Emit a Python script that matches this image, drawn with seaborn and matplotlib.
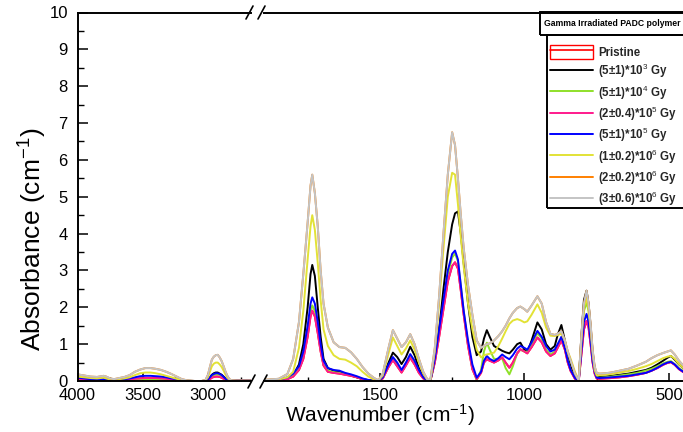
import matplotlib
matplotlib.use("Agg")
import matplotlib.pyplot as plt
import pandas as pd
import seaborn as sns
from matplotlib.lines import Line2D
from matplotlib.patches import Patch, Rectangle
from matplotlib.legend_handler import HandlerTuple
from matplotlib.ticker import MultipleLocator, FormatStrFormatter

sns.set_theme(style="white")
plt.rcParams["font.family"] = ["Liberation Sans", "DejaVu Sans"]
plt.rcParams["mathtext.fontset"] = "custom"
plt.rcParams["mathtext.rm"] = "Liberation Sans"
plt.rcParams["mathtext.it"] = "Liberation Sans:italic"
plt.rcParams["mathtext.bf"] = "Liberation Sans:bold"

# ---------------- data ----------------
SERIES = ["Pristine", "(5±1)*10$^{3}$ Gy", "(5±1)*10$^{4}$ Gy", "(2±0.4)*10$^{5}$ Gy",
          "(5±1)*10$^{5}$ Gy", "(1±0.2)*10$^{6}$ Gy", "(2±0.2)*10$^{6}$ Gy", "(3±0.6)*10$^{6}$ Gy"]
COLORS = ["#ff0000", "#000000", "#8fe02a", "#ff1a8c", "#0000ff", "#e2e236", "#ff8000", "#c4c4c4"]

# left segment (4000 - 2650 cm-1)
W_L = [4000, 3950, 3900, 3850, 3800, 3780, 3750, 3720, 3680, 3640,
       3600, 3560, 3520, 3480, 3440, 3400, 3360, 3320, 3280, 3240,
       3200, 3150, 3100, 3050, 3020, 3000, 2985, 2970, 2955, 2940,
       2925, 2910, 2895, 2880, 2865, 2850, 2835, 2820, 2780, 2740,
       2700, 2650]
PRISTINE_L = [0.05, 0.04, 0.03, 0.03, 0.04, 0.03, 0.02, 0.01, 0.02, 0.03,
              0.04, 0.06, 0.07, 0.08, 0.08, 0.08, 0.07, 0.06, 0.04, 0.03,
              0.01, 0.00, 0.00, 0.00, 0.00, 0.02, 0.05, 0.09, 0.11, 0.12,
              0.12, 0.11, 0.09, 0.06, 0.03, 0.01, 0.01, 0.01, 0.01, 0.01,
              0.01, 0.01]
D5E3_L = [0.03, 0.03, 0.02, 0.02, 0.04, 0.02, 0.02, 0.01, 0.02, 0.03,
          0.04, 0.05, 0.06, 0.06, 0.06, 0.06, 0.05, 0.04, 0.03, 0.02,
          0.01, 0.00, 0.00, 0.00, 0.01, 0.04, 0.10, 0.17, 0.21, 0.23,
          0.23, 0.20, 0.17, 0.12, 0.07, 0.03, 0.01, 0.00, 0.00, 0.00,
          0.00, 0.00]
D5E4_L = [0.03, 0.03, 0.02, 0.02, 0.03, 0.02, 0.01, 0.01, 0.01, 0.02,
          0.03, 0.04, 0.05, 0.05, 0.05, 0.05, 0.04, 0.03, 0.02, 0.01,
          0.00, 0.00, 0.00, 0.00, 0.00, 0.03, 0.08, 0.13, 0.16, 0.18,
          0.18, 0.16, 0.13, 0.09, 0.05, 0.02, 0.01, 0.00, 0.00, 0.00,
          0.00, 0.00]
D2E5_L = [0.05, 0.04, 0.03, 0.03, 0.04, 0.03, 0.02, 0.01, 0.02, 0.03,
          0.04, 0.06, 0.07, 0.08, 0.08, 0.08, 0.07, 0.06, 0.04, 0.03,
          0.01, 0.00, 0.00, 0.00, 0.00, 0.02, 0.05, 0.09, 0.11, 0.12,
          0.12, 0.11, 0.09, 0.06, 0.03, 0.01, 0.01, 0.01, 0.01, 0.01,
          0.01, 0.01]
D5E5_L = [0.09, 0.07, 0.05, 0.04, 0.05, 0.04, 0.03, 0.02, 0.03, 0.05,
          0.07, 0.10, 0.13, 0.14, 0.14, 0.13, 0.12, 0.10, 0.07, 0.05,
          0.02, 0.01, 0.00, 0.00, 0.01, 0.04, 0.10, 0.16, 0.19, 0.21,
          0.21, 0.19, 0.16, 0.11, 0.06, 0.03, 0.02, 0.02, 0.02, 0.02,
          0.02, 0.02]
D1E6_L = [0.12, 0.10, 0.08, 0.07, 0.09, 0.07, 0.04, 0.03, 0.05, 0.07,
          0.10, 0.16, 0.21, 0.23, 0.23, 0.21, 0.18, 0.14, 0.10, 0.06,
          0.03, 0.01, 0.00, 0.00, 0.01, 0.10, 0.25, 0.40, 0.47, 0.50,
          0.50, 0.45, 0.38, 0.28, 0.17, 0.08, 0.03, 0.01, 0.01, 0.01,
          0.01, 0.01]
D2E6_L = [0.18, 0.15, 0.12, 0.11, 0.14, 0.12, 0.07, 0.05, 0.08, 0.11,
          0.16, 0.25, 0.31, 0.35, 0.35, 0.33, 0.30, 0.25, 0.19, 0.12,
          0.05, 0.01, 0.00, 0.00, 0.02, 0.17, 0.38, 0.58, 0.66, 0.70,
          0.71, 0.64, 0.54, 0.40, 0.25, 0.13, 0.05, 0.02, 0.01, 0.01,
          0.01, 0.01]
D3E6_L = [0.18, 0.15, 0.12, 0.11, 0.14, 0.12, 0.07, 0.05, 0.08, 0.11,
          0.16, 0.25, 0.31, 0.35, 0.35, 0.33, 0.30, 0.25, 0.19, 0.12,
          0.05, 0.01, 0.00, 0.00, 0.02, 0.17, 0.38, 0.58, 0.66, 0.70,
          0.71, 0.64, 0.54, 0.40, 0.25, 0.13, 0.05, 0.02, 0.01, 0.01,
          0.01, 0.01]

# right segment (1905 - 420 cm-1)
W_R = [1905, 1850, 1820, 1800, 1780, 1765, 1750, 1740, 1734, 1725,
       1715, 1705, 1695, 1680, 1660, 1640, 1620, 1600, 1580, 1560,
       1540, 1520, 1505, 1490, 1470, 1455, 1440, 1425, 1410, 1395,
       1380, 1365, 1350, 1335, 1325, 1310, 1295, 1280, 1265, 1250,
       1240, 1230, 1220, 1210, 1195, 1180, 1165, 1150, 1140, 1130,
       1120, 1105, 1090, 1077, 1065, 1052, 1040, 1025, 1014, 1000,
       990, 975, 955, 940, 925, 910, 895, 885, 872, 860,
       850, 840, 825, 812, 803, 794, 785, 778, 771, 764,
       757, 750, 740, 720, 700, 670, 640, 610, 580, 560,
       540, 520, 505, 493, 480, 465, 450, 420]
PRISTINE_R = [0.01, 0.02, 0.05, 0.12, 0.30, 0.60, 1.20, 1.75, 1.91, 1.75,
              1.30, 0.80, 0.42, 0.25, 0.22, 0.20, 0.17, 0.14, 0.10, 0.05,
              0.02, 0.01, 0.00, 0.07, 0.38, 0.57, 0.40, 0.23, 0.42, 0.63,
              0.45, 0.22, 0.07, 0.00, 0.02, 0.50, 1.20, 1.95, 2.70, 3.12,
              3.22, 3.05, 2.45, 1.80, 0.95, 0.32, 0.05, 0.22, 0.50, 0.59,
              0.55, 0.50, 0.56, 0.64, 0.50, 0.36, 0.50, 0.75, 0.86, 0.80,
              0.75, 0.92, 1.18, 1.05, 0.80, 0.68, 0.75, 0.90, 1.10, 0.85,
              0.50, 0.27, 0.06, 0.00, 0.70, 1.40, 1.63, 1.45, 1.00, 0.50,
              0.20, 0.07, 0.06, 0.07, 0.08, 0.10, 0.13, 0.17, 0.22, 0.28,
              0.35, 0.44, 0.49, 0.51, 0.44, 0.32, 0.24, 0.17]
D5E3_R = [0.01, 0.02, 0.06, 0.15, 0.45, 1.00, 2.00, 2.90, 3.15, 2.85,
          2.00, 1.20, 0.60, 0.35, 0.28, 0.25, 0.20, 0.15, 0.10, 0.05,
          0.02, 0.01, 0.00, 0.10, 0.50, 0.77, 0.65, 0.46, 0.65, 0.93,
          0.70, 0.35, 0.10, 0.00, 0.02, 0.55, 1.40, 2.50, 3.50, 4.25,
          4.55, 4.60, 4.00, 3.20, 2.10, 1.20, 0.70, 0.80, 1.15, 1.38,
          1.20, 0.95, 0.88, 0.82, 0.78, 0.75, 0.85, 1.00, 1.04, 0.85,
          0.78, 1.10, 1.59, 1.40, 1.00, 0.85, 0.95, 1.25, 1.52, 1.10,
          0.70, 0.40, 0.12, 0.02, 1.20, 2.20, 2.45, 2.10, 1.50, 0.80,
          0.35, 0.15, 0.12, 0.12, 0.14, 0.17, 0.20, 0.25, 0.30, 0.36,
          0.45, 0.55, 0.63, 0.68, 0.58, 0.45, 0.35, 0.25]
D5E4_R = [0.01, 0.02, 0.06, 0.15, 0.35, 0.70, 1.35, 1.90, 2.05, 1.90,
          1.40, 0.85, 0.45, 0.28, 0.24, 0.22, 0.18, 0.15, 0.11, 0.06,
          0.02, 0.01, 0.00, 0.08, 0.40, 0.60, 0.45, 0.25, 0.45, 0.68,
          0.50, 0.25, 0.08, 0.00, 0.02, 0.55, 1.30, 2.10, 2.90, 3.35,
          3.46, 3.25, 2.60, 1.90, 1.00, 0.35, 0.02, 0.30, 0.80, 1.04,
          0.85, 0.60, 0.60, 0.62, 0.35, 0.18, 0.40, 0.75, 0.85, 0.80,
          0.78, 0.98, 1.30, 1.15, 0.85, 0.72, 0.80, 0.95, 1.18, 0.90,
          0.55, 0.30, 0.08, 0.00, 1.00, 1.90, 2.13, 1.90, 1.30, 0.65,
          0.28, 0.10, 0.09, 0.10, 0.12, 0.15, 0.18, 0.22, 0.28, 0.33,
          0.40, 0.48, 0.52, 0.54, 0.46, 0.35, 0.27, 0.19]
D2E5_R = [0.01, 0.02, 0.05, 0.12, 0.30, 0.60, 1.20, 1.75, 1.91, 1.75,
          1.30, 0.80, 0.42, 0.25, 0.22, 0.20, 0.17, 0.14, 0.10, 0.05,
          0.02, 0.01, 0.00, 0.07, 0.38, 0.57, 0.40, 0.23, 0.42, 0.63,
          0.45, 0.22, 0.07, 0.00, 0.02, 0.50, 1.20, 1.95, 2.70, 3.12,
          3.22, 3.05, 2.45, 1.80, 0.95, 0.32, 0.05, 0.22, 0.50, 0.59,
          0.55, 0.50, 0.56, 0.64, 0.50, 0.36, 0.50, 0.75, 0.86, 0.80,
          0.75, 0.92, 1.18, 1.05, 0.80, 0.68, 0.75, 0.90, 1.10, 0.85,
          0.50, 0.27, 0.06, 0.00, 0.70, 1.40, 1.63, 1.45, 1.00, 0.50,
          0.20, 0.07, 0.06, 0.07, 0.08, 0.10, 0.13, 0.17, 0.22, 0.28,
          0.35, 0.44, 0.49, 0.51, 0.44, 0.32, 0.24, 0.17]
D5E5_R = [0.02, 0.03, 0.10, 0.20, 0.40, 0.80, 1.50, 2.10, 2.27, 2.10,
          1.60, 1.00, 0.55, 0.35, 0.30, 0.28, 0.22, 0.18, 0.13, 0.07,
          0.03, 0.01, 0.00, 0.10, 0.45, 0.65, 0.50, 0.30, 0.50, 0.73,
          0.55, 0.30, 0.10, 0.00, 0.02, 0.60, 1.40, 2.20, 3.00, 3.45,
          3.54, 3.30, 2.60, 1.90, 1.10, 0.45, 0.09, 0.25, 0.55, 0.68,
          0.60, 0.54, 0.62, 0.72, 0.65, 0.59, 0.70, 0.88, 0.95, 0.90,
          0.85, 1.05, 1.36, 1.20, 0.95, 0.80, 0.85, 1.00, 1.20, 0.90,
          0.55, 0.30, 0.08, 0.00, 0.80, 1.60, 1.82, 1.60, 1.10, 0.55,
          0.25, 0.09, 0.08, 0.09, 0.10, 0.12, 0.14, 0.18, 0.22, 0.28,
          0.36, 0.45, 0.50, 0.52, 0.45, 0.33, 0.25, 0.18]
D1E6_R = [0.02, 0.04, 0.10, 0.25, 0.90, 1.90, 3.30, 4.20, 4.50, 4.10,
          3.20, 2.20, 1.40, 0.95, 0.70, 0.60, 0.58, 0.50, 0.40, 0.25,
          0.12, 0.04, 0.01, 0.15, 0.75, 1.18, 0.95, 0.72, 0.88, 1.10,
          0.85, 0.50, 0.20, 0.02, 0.03, 0.80, 2.10, 3.60, 5.00, 5.65,
          5.60, 4.80, 3.90, 3.10, 2.10, 1.40, 0.85, 0.64, 0.70, 0.72,
          0.74, 0.77, 0.95, 1.15, 1.35, 1.55, 1.64, 1.68, 1.65, 1.59,
          1.62, 1.80, 2.08, 1.85, 1.45, 1.23, 1.22, 1.25, 1.28, 1.10,
          0.80, 0.60, 0.25, 0.02, 1.05, 2.00, 2.25, 1.95, 1.40, 0.75,
          0.30, 0.15, 0.16, 0.17, 0.19, 0.23, 0.27, 0.33, 0.40, 0.46,
          0.54, 0.62, 0.66, 0.68, 0.60, 0.46, 0.35, 0.25]
D2E6_R = [0.03, 0.06, 0.19, 0.60, 1.60, 2.90, 4.30, 5.30, 5.60, 5.10,
          4.20, 3.00, 2.10, 1.45, 1.05, 0.92, 0.90, 0.78, 0.60, 0.38,
          0.20, 0.08, 0.02, 0.20, 0.90, 1.38, 1.15, 0.92, 1.05, 1.27,
          1.00, 0.60, 0.25, 0.03, 0.05, 0.90, 2.30, 4.00, 5.60, 6.75,
          6.40, 5.50, 4.50, 3.60, 2.60, 1.80, 1.10, 0.90, 0.95, 1.00,
          1.02, 1.10, 1.22, 1.35, 1.50, 1.70, 1.85, 1.98, 2.02, 1.95,
          1.88, 2.05, 2.30, 2.10, 1.60, 1.28, 1.25, 1.28, 1.35, 1.10,
          0.80, 0.55, 0.20, 0.02, 1.20, 2.10, 2.45, 2.10, 1.55, 0.85,
          0.40, 0.22, 0.20, 0.21, 0.23, 0.28, 0.33, 0.42, 0.52, 0.62,
          0.70, 0.76, 0.80, 0.83, 0.72, 0.55, 0.42, 0.30]
D3E6_R = [0.03, 0.06, 0.19, 0.60, 1.60, 2.90, 4.30, 5.30, 5.60, 5.10,
          4.20, 3.00, 2.10, 1.45, 1.05, 0.92, 0.90, 0.78, 0.60, 0.38,
          0.20, 0.08, 0.02, 0.20, 0.90, 1.38, 1.15, 0.92, 1.05, 1.27,
          1.00, 0.60, 0.25, 0.03, 0.05, 0.90, 2.30, 4.00, 5.60, 6.75,
          6.40, 5.50, 4.50, 3.60, 2.60, 1.80, 1.10, 0.90, 0.95, 1.00,
          1.02, 1.10, 1.22, 1.35, 1.50, 1.70, 1.85, 1.98, 2.02, 1.95,
          1.88, 2.05, 2.30, 2.10, 1.60, 1.28, 1.25, 1.28, 1.35, 1.10,
          0.80, 0.55, 0.20, 0.02, 1.20, 2.10, 2.45, 2.10, 1.55, 0.85,
          0.40, 0.22, 0.20, 0.21, 0.23, 0.28, 0.33, 0.42, 0.52, 0.62,
          0.70, 0.76, 0.80, 0.83, 0.72, 0.55, 0.42, 0.30]

LEFT = [PRISTINE_L, D5E3_L, D5E4_L, D2E5_L, D5E5_L, D1E6_L, D2E6_L, D3E6_L]
RIGHT = [PRISTINE_R, D5E3_R, D5E4_R, D2E5_R, D5E5_R, D1E6_R, D2E6_R, D3E6_R]

TICKS_L = [4000, 3500, 3000]
TICKS_R = [1500, 1000, 500]
LEGEND_TITLE = "Gamma Irradiated PADC polymer"


def long_frame(wn, series_vals):
    rows = []
    for name, vals in zip(SERIES, series_vals):
        assert len(vals) == len(wn), name
        for w, a in zip(wn, vals):
            rows.append({"series": name, "wn": w, "A": a})
    return pd.DataFrame(rows)


df_l = long_frame(W_L, LEFT)
df_r = long_frame(W_R, RIGHT)
palette = dict(zip(SERIES, COLORS))

# ---------------- figure ----------------
W, H = 683, 432
fig = plt.figure(figsize=(W / 100, H / 100), dpi=100)
fig.patch.set_facecolor("white")


def fpt(x, y):
    return (x / W, 1 - y / H)


top_px, bot_px = 12.5, 381
axL = fig.add_axes([77.5 / W, 1 - bot_px / H, (251 - 77.5) / W, (bot_px - top_px) / H])
axR = fig.add_axes([264 / W, 1 - bot_px / H, (690 - 264) / W, (bot_px - top_px) / H], sharey=axL)

for ax, df in ((axL, df_l), (axR, df_r)):
    sns.lineplot(data=df, x="wn", y="A", hue="series", hue_order=SERIES, palette=palette,
                 sort=False, estimator=None, legend=False, linewidth=1.4, ax=ax)
    ax.set_xlabel("")
    ax.set_ylabel("")
    ax.set_facecolor("white")
    for s in ax.spines.values():
        s.set_color("black")
        s.set_linewidth(1.4)

axL.set_xlim(4000, 2670)
axR.set_xlim(1901, 427)
axL.set_ylim(0, 10)

axL.set_xticks(TICKS_L)
axL.xaxis.set_minor_locator(MultipleLocator(250))
axR.set_xticks(TICKS_R)
axR.xaxis.set_minor_locator(MultipleLocator(250))
axL.yaxis.set_major_locator(MultipleLocator(1))
axL.yaxis.set_minor_locator(MultipleLocator(0.5))

axL.spines["right"].set_visible(False)
axR.spines["left"].set_visible(False)

for ax in (axL, axR):
    ax.tick_params(axis="x", which="major", direction="in", length=5.5, width=1.1,
                   labelsize=12, pad=5, bottom=True, top=False, colors="black")
    ax.tick_params(axis="x", which="minor", direction="in", length=2.8, width=1.0,
                   bottom=True, top=False, colors="black")
    ax.xaxis.set_major_formatter(FormatStrFormatter("%d"))
axL.tick_params(axis="y", which="major", direction="in", length=7, width=1.1,
                labelsize=12, pad=7, left=True, right=False, colors="black")
axL.tick_params(axis="y", which="minor", direction="in", length=4, width=1.0,
                left=True, right=False, colors="black")
axR.tick_params(axis="y", which="both", left=False, right=False, labelleft=False)

# axis titles
fig.text(380 / W, 1 - 415 / H, "Wavenumber (cm$^{-1}$)", ha="center", va="center",
         fontsize=15, color="black")
fig.text(33 / W, 1 - 239 / H, "Absorbance (cm$^{-1}$)", ha="center", va="center",
         rotation=90, fontsize=19, color="black")

# axis break marks
for (x0, y0, x1, y1) in [(248, 388, 255, 375), (260, 388, 267, 375),
                         (246, 19, 253, 6), (258, 19, 265, 6)]:
    p0, p1 = fpt(x0, y0), fpt(x1, y1)
    fig.add_artist(Line2D([p0[0], p1[0]], [p0[1], p1[1]], color="black", lw=1.2,
                          transform=fig.transFigure))

# legend title box
fig.add_artist(Rectangle(fpt(540, 35), (690 - 540) / W, (35 - 12.5) / H, fill=False,
                         edgecolor="black", lw=1.4, transform=fig.transFigure))
fig.text(544 / W, 1 - 24 / H, LEGEND_TITLE, ha="left", va="center", fontsize=6.2,
         fontweight="bold", color="black")

# legend entries box
fig.add_artist(Rectangle(fpt(547, 208), (690 - 547) / W, (208 - 35) / H, fill=False,
                         edgecolor="black", lw=1.4, transform=fig.transFigure))

handles = [(Patch(facecolor="white", edgecolor=COLORS[0], lw=1.0),
            Line2D([], [], color=COLORS[0], lw=1.2))]
handles += [Line2D([], [], color=c, lw=1.4) for c in COLORS[1:]]
leg = fig.legend(handles, SERIES, loc="upper left", bbox_to_anchor=fpt(550, 45),
                 bbox_transform=fig.transFigure, borderaxespad=0, frameon=False,
                 prop={"weight": "bold", "size": 8.3}, handlelength=3.7, handleheight=1.5,
                 handletextpad=0.45, borderpad=0, labelspacing=0.27,
                 handler_map={tuple: HandlerTuple(ndivide=1)})

fig.savefig("out.png", dpi=100, facecolor="white")
